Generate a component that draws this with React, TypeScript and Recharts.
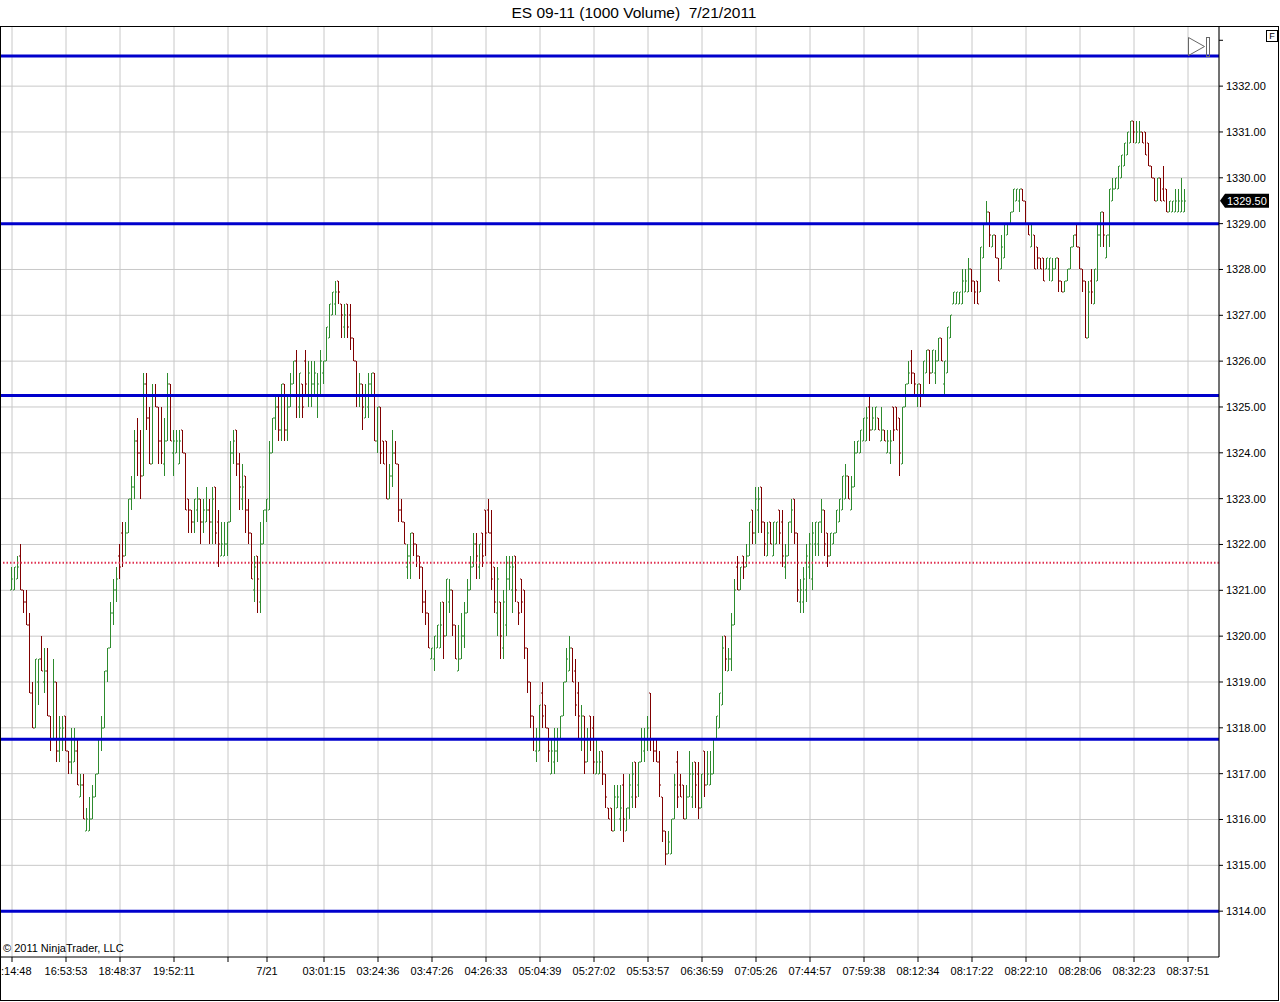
import React from 'react';
import { ComposedChart, Bar, XAxis, YAxis, CartesianGrid, ReferenceLine } from 'recharts';

// 1000-volume bars (index = bar number)
const opens = [
  1321.0, 1321.0, 1321.25, 1321.75, 1321.0, 1320.75, 1320.25, 1318.75, 1318.0, 1319.0,
  1319.5, 1319.0, 1319.25, 1318.25, 1317.75, 1319.0, 1317.5, 1317.75, 1318.25, 1317.5,
  1317.25, 1317.25, 1317.5, 1316.5, 1316.75, 1315.75, 1315.75, 1316.0, 1316.5, 1317.0,
  1317.75, 1318.0, 1319.25, 1319.75, 1320.5, 1321.0, 1321.75, 1322.25, 1321.75, 1322.25,
  1323.0, 1323.25, 1324.25, 1324.0, 1323.5, 1325.5, 1324.75, 1323.75, 1325.25, 1325.0,
  1324.25, 1323.75, 1324.25, 1325.5, 1324.0, 1324.0, 1323.75, 1324.5, 1324.0, 1323.0,
  1322.75, 1322.5, 1322.75, 1323.0, 1322.5, 1322.5, 1322.75, 1322.5, 1323.25, 1322.5,
  1321.75, 1321.75, 1322.0, 1322.5, 1324.0, 1324.5, 1323.75, 1323.0, 1323.5, 1322.75,
  1322.25, 1321.0, 1321.75, 1320.75, 1322.0, 1322.75, 1322.75, 1324.0, 1324.75, 1325.0,
  1324.5, 1325.5, 1324.5, 1325.0, 1325.5, 1326.0, 1325.0, 1325.5, 1326.0, 1325.25,
  1325.25, 1325.5, 1325.25, 1325.25, 1325.75, 1326.0, 1326.5, 1327.0, 1327.25, 1327.75,
  1327.25, 1326.75, 1327.25, 1327.0, 1326.5, 1326.0, 1325.25, 1325.5, 1324.75, 1325.0,
  1325.5, 1325.75, 1324.25, 1325.0, 1324.25, 1324.25, 1323.0, 1323.5, 1324.0, 1323.75,
  1322.75, 1322.5, 1321.5, 1321.75, 1322.25, 1322.0, 1321.75, 1321.5, 1320.75, 1320.5,
  1319.5, 1319.5, 1319.75, 1319.75, 1320.75, 1320.0, 1320.75, 1321.0, 1320.25, 1319.25,
  1319.5, 1320.0, 1320.5, 1321.0, 1321.5, 1322.0, 1321.5, 1322.25, 1322.75, 1322.75,
  1322.25, 1321.5, 1320.5, 1320.75, 1319.75, 1320.25, 1321.25, 1321.0, 1321.75, 1320.75,
  1321.25, 1321.0, 1319.75, 1319.0, 1318.25, 1317.5, 1317.5, 1318.75, 1318.5, 1318.0,
  1317.0, 1317.25, 1317.5, 1317.75, 1318.25, 1319.0, 1319.25, 1319.75, 1319.25, 1318.75,
  1317.75, 1318.25, 1317.25, 1318.25, 1318.0, 1317.0, 1317.0, 1317.5, 1317.0, 1316.25,
  1316.25, 1315.75, 1316.25, 1316.0, 1316.75, 1315.75, 1316.25, 1316.5, 1317.25, 1316.75,
  1317.25, 1317.5, 1317.75, 1318.75, 1317.75, 1317.5, 1317.25, 1316.5, 1315.75, 1315.25,
  1315.25, 1316.0, 1317.25, 1316.75, 1316.75, 1316.0, 1316.5, 1316.5, 1317.25, 1317.0,
  1316.25, 1317.5, 1316.75, 1316.75, 1317.0, 1317.75, 1318.0, 1318.5, 1320.0, 1319.25,
  1319.5, 1320.25, 1321.5, 1321.0, 1321.75, 1321.5, 1321.75, 1322.75, 1322.25, 1322.75,
  1323.25, 1322.5, 1321.75, 1322.5, 1321.75, 1322.0, 1322.75, 1322.5, 1321.5, 1321.75,
  1322.5, 1323.0, 1322.25, 1320.75, 1320.75, 1321.0, 1321.5, 1321.25, 1322.0, 1322.0,
  1322.5, 1322.75, 1322.25, 1321.75, 1322.0, 1322.25, 1322.5, 1322.75, 1323.0, 1323.5,
  1322.75, 1323.25, 1324.0, 1324.0, 1324.25, 1324.25, 1325.0, 1324.5, 1324.5, 1324.75,
  1324.25, 1324.5, 1324.0, 1324.0, 1325.0, 1325.0, 1324.75, 1323.75, 1325.0, 1325.5,
  1326.0, 1325.75, 1325.25, 1325.5, 1325.25, 1325.75, 1326.25, 1325.75, 1325.75, 1326.0,
  1326.5, 1325.5, 1325.75, 1326.5, 1327.25, 1327.25, 1327.25, 1327.25, 1327.5, 1327.5,
  1328.0, 1327.75, 1327.75, 1327.5, 1328.25, 1329.0, 1329.25, 1328.5, 1328.75, 1328.25,
  1328.0, 1328.25, 1328.75, 1329.0, 1329.25, 1329.5, 1329.5, 1329.75, 1329.5, 1329.0,
  1328.5, 1328.75, 1328.5, 1328.25, 1328.25, 1328.0, 1328.0, 1327.75, 1328.0, 1328.25,
  1327.75, 1327.5, 1327.75, 1328.0, 1328.5, 1328.75, 1328.5, 1328.0, 1327.75, 1326.5,
  1327.75, 1327.25, 1327.75, 1328.75, 1329.25, 1328.25, 1328.75, 1329.5, 1329.75, 1329.75,
  1330.0, 1330.25, 1330.5, 1330.75, 1331.25, 1330.75, 1330.75, 1331.0, 1331.0, 1330.75,
  1330.25, 1330.0, 1329.5, 1330.0, 1329.75, 1329.75, 1329.25, 1329.25, 1329.25, 1329.25,
  1329.25, 1329.25,
];

const highs = [
  1321.5, 1321.5, 1321.75, 1322.0, 1321.0, 1321.0, 1320.5, 1319.0, 1319.5, 1319.5,
  1320.0, 1319.75, 1319.75, 1318.25, 1319.5, 1319.0, 1318.25, 1318.25, 1318.25, 1317.5,
  1318.0, 1318.0, 1317.75, 1317.0, 1317.0, 1316.25, 1316.5, 1316.75, 1317.0, 1317.75,
  1318.25, 1319.25, 1319.75, 1320.75, 1321.25, 1321.5, 1322.0, 1322.5, 1322.5, 1323.0,
  1323.5, 1324.5, 1324.75, 1324.5, 1325.75, 1325.75, 1325.0, 1325.5, 1325.5, 1325.0,
  1325.0, 1324.75, 1325.75, 1325.5, 1324.5, 1324.5, 1324.5, 1324.5, 1324.0, 1323.0,
  1322.75, 1323.0, 1323.25, 1323.0, 1323.0, 1323.25, 1323.0, 1323.25, 1323.25, 1322.75,
  1322.5, 1322.5, 1322.5, 1324.25, 1324.5, 1324.5, 1324.0, 1323.75, 1323.5, 1323.0,
  1322.25, 1321.75, 1321.75, 1322.5, 1322.75, 1323.0, 1324.25, 1324.75, 1325.25, 1325.25,
  1325.5, 1325.5, 1325.25, 1325.75, 1326.0, 1326.25, 1325.75, 1325.5, 1326.25, 1326.0,
  1326.0, 1326.0, 1325.75, 1326.25, 1326.0, 1326.75, 1327.25, 1327.5, 1327.75, 1327.75,
  1327.25, 1327.25, 1327.25, 1327.25, 1326.5, 1326.0, 1325.75, 1325.5, 1325.5, 1325.75,
  1325.75, 1325.75, 1325.0, 1325.0, 1324.25, 1324.25, 1323.75, 1324.5, 1324.25, 1323.75,
  1323.0, 1322.5, 1322.0, 1322.25, 1322.25, 1322.0, 1321.75, 1321.5, 1321.0, 1320.5,
  1319.75, 1320.0, 1320.25, 1320.75, 1320.75, 1321.25, 1321.25, 1321.0, 1320.25, 1320.25,
  1320.5, 1320.75, 1321.25, 1321.75, 1322.25, 1322.25, 1322.0, 1322.25, 1322.75, 1323.0,
  1322.75, 1321.5, 1321.5, 1320.75, 1321.0, 1321.75, 1321.75, 1321.75, 1321.75, 1320.75,
  1321.25, 1321.0, 1319.75, 1319.0, 1318.25, 1318.0, 1318.5, 1319.0, 1318.5, 1318.0,
  1317.75, 1318.0, 1318.0, 1318.25, 1319.0, 1319.75, 1320.0, 1319.75, 1319.5, 1319.0,
  1318.5, 1318.25, 1318.0, 1318.25, 1318.25, 1317.75, 1317.5, 1317.5, 1317.0, 1316.25,
  1316.25, 1316.75, 1316.75, 1316.75, 1317.0, 1316.25, 1317.0, 1317.25, 1317.25, 1317.25,
  1318.0, 1318.0, 1318.25, 1318.75, 1317.75, 1317.75, 1317.5, 1316.5, 1315.75, 1315.75,
  1316.0, 1317.0, 1317.5, 1317.0, 1316.75, 1316.75, 1317.5, 1317.25, 1317.25, 1317.25,
  1317.0, 1317.5, 1317.5, 1317.5, 1317.75, 1318.25, 1318.75, 1320.0, 1320.0, 1319.75,
  1320.5, 1321.25, 1321.75, 1321.5, 1321.75, 1322.0, 1322.5, 1322.75, 1323.25, 1323.25,
  1323.25, 1322.5, 1322.5, 1322.5, 1322.5, 1322.5, 1322.75, 1322.75, 1322.0, 1322.5,
  1323.0, 1323.0, 1322.25, 1321.25, 1321.5, 1322.0, 1322.25, 1322.5, 1322.5, 1322.5,
  1323.0, 1322.75, 1322.25, 1322.25, 1322.25, 1322.75, 1323.0, 1323.5, 1323.75, 1323.5,
  1323.5, 1324.25, 1324.25, 1324.5, 1324.75, 1325.0, 1325.25, 1325.0, 1325.0, 1324.75,
  1325.0, 1324.5, 1324.5, 1324.5, 1325.0, 1325.0, 1324.75, 1325.0, 1325.5, 1326.0,
  1326.25, 1325.75, 1325.5, 1325.5, 1326.0, 1326.25, 1326.25, 1326.25, 1326.25, 1326.5,
  1326.5, 1326.0, 1326.75, 1327.0, 1327.5, 1327.5, 1327.5, 1328.0, 1328.0, 1328.25,
  1328.0, 1327.75, 1327.75, 1328.5, 1329.0, 1329.5, 1329.25, 1328.75, 1328.75, 1328.25,
  1328.75, 1329.0, 1329.0, 1329.25, 1329.75, 1329.75, 1329.75, 1329.75, 1329.5, 1329.0,
  1329.0, 1328.75, 1328.5, 1328.25, 1328.25, 1328.25, 1328.25, 1328.25, 1328.25, 1328.25,
  1327.75, 1327.75, 1328.0, 1328.5, 1328.75, 1329.0, 1328.5, 1328.0, 1327.75, 1327.75,
  1328.0, 1328.0, 1329.0, 1329.25, 1329.25, 1328.75, 1329.75, 1330.0, 1330.0, 1330.25,
  1330.5, 1330.75, 1331.0, 1331.25, 1331.25, 1331.25, 1331.25, 1331.0, 1331.0, 1330.75,
  1330.25, 1330.0, 1330.0, 1330.0, 1330.25, 1329.75, 1329.5, 1329.5, 1329.75, 1329.75,
  1330.0, 1329.75,
];

const lows = [
  1321.0, 1321.0, 1321.25, 1321.0, 1320.5, 1320.25, 1318.75, 1318.0, 1318.0, 1318.5,
  1319.25, 1318.75, 1318.25, 1317.5, 1317.75, 1317.25, 1317.25, 1317.5, 1317.5, 1317.0,
  1317.0, 1317.25, 1316.75, 1316.5, 1316.0, 1315.75, 1315.75, 1316.0, 1316.5, 1317.0,
  1317.5, 1318.0, 1319.0, 1319.75, 1320.25, 1320.75, 1321.25, 1321.5, 1321.75, 1322.25,
  1322.75, 1323.0, 1323.5, 1323.0, 1323.5, 1324.5, 1323.75, 1323.75, 1325.0, 1323.75,
  1323.75, 1323.5, 1324.25, 1324.25, 1323.5, 1324.0, 1323.75, 1324.0, 1322.75, 1322.25,
  1322.25, 1322.25, 1322.5, 1322.0, 1322.25, 1322.5, 1322.0, 1322.0, 1322.0, 1321.5,
  1321.75, 1321.75, 1321.75, 1322.5, 1323.75, 1323.5, 1322.75, 1322.75, 1322.25, 1322.0,
  1321.25, 1320.75, 1320.5, 1320.5, 1322.0, 1322.5, 1322.75, 1324.0, 1324.5, 1324.25,
  1324.25, 1324.25, 1324.25, 1325.0, 1325.5, 1324.75, 1324.75, 1324.75, 1325.25, 1325.0,
  1325.0, 1325.25, 1324.75, 1325.25, 1325.5, 1326.0, 1326.5, 1327.0, 1327.0, 1327.25,
  1326.5, 1326.5, 1326.5, 1326.25, 1326.0, 1325.0, 1325.0, 1324.5, 1324.75, 1324.75,
  1325.25, 1324.25, 1324.0, 1323.75, 1323.75, 1323.0, 1323.0, 1323.25, 1323.75, 1322.5,
  1322.5, 1322.0, 1321.25, 1321.25, 1321.75, 1321.5, 1321.25, 1320.5, 1320.25, 1319.75,
  1319.5, 1319.25, 1319.75, 1319.75, 1319.5, 1320.0, 1320.5, 1320.0, 1319.5, 1319.25,
  1319.5, 1319.75, 1320.5, 1321.0, 1321.5, 1321.25, 1321.25, 1321.5, 1321.75, 1322.25,
  1321.0, 1320.5, 1320.0, 1319.5, 1319.5, 1320.0, 1321.0, 1320.5, 1320.75, 1320.25,
  1320.5, 1319.5, 1318.75, 1318.0, 1317.5, 1317.25, 1317.5, 1318.0, 1318.0, 1317.25,
  1317.0, 1317.0, 1317.25, 1317.75, 1318.25, 1319.0, 1319.25, 1319.0, 1318.25, 1317.75,
  1317.5, 1317.0, 1317.25, 1317.5, 1317.0, 1317.0, 1317.0, 1316.75, 1316.25, 1316.0,
  1315.75, 1315.75, 1316.25, 1315.75, 1315.5, 1315.75, 1316.0, 1316.25, 1316.25, 1316.5,
  1317.25, 1317.25, 1317.5, 1317.5, 1317.25, 1317.25, 1316.5, 1315.5, 1315.0, 1315.25,
  1315.25, 1316.0, 1316.25, 1316.5, 1316.0, 1316.0, 1316.5, 1316.25, 1316.25, 1316.0,
  1316.25, 1316.5, 1316.75, 1316.75, 1317.0, 1317.75, 1318.0, 1318.5, 1319.25, 1319.25,
  1319.25, 1320.25, 1321.0, 1321.0, 1321.25, 1321.5, 1321.75, 1322.0, 1322.0, 1322.25,
  1322.25, 1321.75, 1321.75, 1322.0, 1321.75, 1322.0, 1322.0, 1321.5, 1321.25, 1321.75,
  1322.25, 1322.0, 1320.75, 1320.5, 1320.5, 1320.75, 1321.25, 1321.0, 1321.75, 1321.75,
  1322.25, 1321.75, 1321.5, 1321.75, 1322.0, 1322.25, 1322.5, 1322.75, 1323.0, 1323.0,
  1322.75, 1323.25, 1324.0, 1324.0, 1324.25, 1324.25, 1324.25, 1324.5, 1324.5, 1324.5,
  1324.25, 1324.25, 1324.0, 1323.75, 1324.25, 1324.5, 1323.5, 1323.75, 1325.0, 1325.5,
  1325.5, 1325.25, 1325.0, 1325.0, 1325.25, 1325.75, 1325.5, 1325.75, 1325.5, 1326.0,
  1326.0, 1325.25, 1325.75, 1326.5, 1327.25, 1327.25, 1327.25, 1327.25, 1327.5, 1327.5,
  1327.5, 1327.25, 1327.25, 1327.5, 1328.25, 1329.0, 1328.5, 1328.5, 1328.25, 1327.75,
  1328.0, 1328.25, 1328.75, 1329.0, 1329.25, 1329.5, 1329.25, 1329.5, 1329.0, 1328.75,
  1328.5, 1328.0, 1328.0, 1328.0, 1327.75, 1328.0, 1327.75, 1327.75, 1328.0, 1327.5,
  1327.5, 1327.5, 1327.75, 1328.0, 1328.5, 1328.5, 1328.0, 1327.5, 1326.5, 1326.5,
  1327.25, 1327.25, 1327.75, 1328.5, 1328.5, 1328.25, 1328.5, 1329.5, 1329.75, 1329.75,
  1330.0, 1330.25, 1330.5, 1330.75, 1330.75, 1330.75, 1330.75, 1330.75, 1330.5, 1330.25,
  1330.0, 1329.5, 1329.5, 1329.5, 1329.5, 1329.25, 1329.25, 1329.25, 1329.25, 1329.25,
  1329.25, 1329.25,
];

const closes = [
  1321.25, 1321.5, 1321.5, 1321.0, 1320.75, 1320.25, 1318.75, 1318.0, 1319.5, 1319.5,
  1319.25, 1319.25, 1318.25, 1317.75, 1319.0, 1317.5, 1318.0, 1318.0, 1317.5, 1317.25,
  1317.75, 1317.5, 1316.75, 1316.75, 1316.0, 1316.0, 1316.0, 1316.5, 1317.0, 1317.75,
  1318.0, 1319.25, 1319.75, 1320.5, 1321.0, 1321.25, 1321.5, 1321.75, 1322.25, 1323.0,
  1323.25, 1324.25, 1324.0, 1323.5, 1325.5, 1324.75, 1323.75, 1325.25, 1325.0, 1324.25,
  1324.0, 1324.25, 1325.5, 1324.25, 1324.25, 1324.25, 1324.25, 1324.0, 1322.75, 1322.75,
  1322.5, 1323.0, 1323.0, 1322.5, 1322.75, 1322.75, 1322.5, 1323.0, 1322.25, 1322.0,
  1322.0, 1322.0, 1322.5, 1324.0, 1324.25, 1323.75, 1323.25, 1323.25, 1322.75, 1322.25,
  1321.25, 1321.5, 1321.25, 1322.0, 1322.75, 1323.0, 1324.0, 1324.75, 1325.0, 1324.5,
  1325.5, 1324.5, 1325.0, 1325.5, 1326.0, 1325.25, 1325.75, 1325.0, 1325.5, 1325.75,
  1325.5, 1325.75, 1325.5, 1326.0, 1326.0, 1326.75, 1327.25, 1327.5, 1327.5, 1327.5,
  1327.0, 1327.0, 1326.75, 1326.5, 1326.0, 1325.25, 1325.5, 1325.0, 1325.25, 1325.5,
  1325.75, 1324.25, 1325.0, 1324.0, 1323.75, 1323.0, 1323.5, 1324.0, 1323.75, 1322.75,
  1322.5, 1322.0, 1321.75, 1322.25, 1322.0, 1321.75, 1321.5, 1320.75, 1320.5, 1319.75,
  1319.75, 1320.0, 1320.25, 1320.25, 1320.0, 1321.25, 1321.0, 1320.25, 1319.5, 1319.5,
  1320.0, 1320.5, 1321.0, 1321.5, 1322.0, 1321.75, 1322.0, 1321.75, 1322.25, 1322.25,
  1321.25, 1320.75, 1321.25, 1320.0, 1320.75, 1321.25, 1321.5, 1321.5, 1321.0, 1320.5,
  1320.75, 1319.75, 1319.0, 1318.25, 1317.75, 1317.75, 1318.5, 1318.25, 1318.0, 1317.5,
  1317.5, 1317.5, 1317.75, 1318.25, 1319.0, 1319.5, 1319.75, 1319.0, 1318.5, 1318.25,
  1318.25, 1317.25, 1317.75, 1317.75, 1317.25, 1317.25, 1317.25, 1317.0, 1316.5, 1316.0,
  1315.75, 1316.5, 1316.5, 1316.25, 1316.0, 1316.25, 1316.75, 1317.0, 1316.5, 1317.25,
  1317.75, 1317.75, 1318.0, 1317.75, 1317.5, 1317.25, 1316.75, 1315.75, 1315.25, 1315.5,
  1316.0, 1316.75, 1316.5, 1316.5, 1316.0, 1316.5, 1317.0, 1317.0, 1316.75, 1316.25,
  1317.0, 1316.75, 1317.0, 1317.0, 1317.75, 1318.25, 1318.75, 1319.75, 1319.5, 1319.5,
  1320.25, 1321.0, 1321.0, 1321.5, 1321.5, 1321.75, 1322.5, 1322.25, 1323.0, 1323.0,
  1322.5, 1322.0, 1322.25, 1322.0, 1322.5, 1322.5, 1322.25, 1321.75, 1321.75, 1322.5,
  1322.75, 1322.25, 1321.0, 1321.0, 1321.25, 1321.75, 1322.0, 1322.25, 1322.5, 1322.5,
  1322.75, 1322.0, 1321.75, 1322.25, 1322.25, 1322.75, 1323.0, 1323.5, 1323.5, 1323.0,
  1323.25, 1324.0, 1324.25, 1324.5, 1324.75, 1324.75, 1324.5, 1324.75, 1325.0, 1324.5,
  1324.5, 1324.25, 1324.25, 1324.25, 1324.5, 1324.5, 1324.0, 1325.0, 1325.5, 1325.75,
  1325.75, 1325.5, 1325.5, 1325.25, 1326.0, 1326.25, 1325.75, 1326.25, 1326.0, 1326.5,
  1326.0, 1326.0, 1326.75, 1327.0, 1327.5, 1327.5, 1327.5, 1327.75, 1327.75, 1328.0,
  1327.75, 1327.5, 1327.25, 1328.5, 1329.0, 1329.25, 1328.75, 1328.75, 1328.25, 1327.75,
  1328.5, 1329.0, 1329.0, 1329.25, 1329.75, 1329.75, 1329.75, 1329.5, 1329.0, 1328.75,
  1329.0, 1328.0, 1328.25, 1328.0, 1327.75, 1328.25, 1328.25, 1328.0, 1328.25, 1327.75,
  1327.5, 1327.75, 1328.0, 1328.5, 1328.75, 1328.5, 1328.0, 1327.75, 1326.5, 1327.5,
  1327.5, 1328.0, 1328.75, 1329.25, 1328.75, 1328.75, 1329.75, 1329.75, 1330.0, 1330.25,
  1330.5, 1330.75, 1331.0, 1331.25, 1331.0, 1331.0, 1331.0, 1330.75, 1330.5, 1330.25,
  1330.0, 1329.5, 1330.0, 1329.5, 1329.5, 1329.25, 1329.5, 1329.5, 1329.5, 1329.5,
  1329.5, 1329.5,
];

// x-axis ticks (bar index) and their labels
const timeTickIdx = [0, 18, 36, 54, 72, 85, 104, 122, 140, 158, 176, 194, 212, 230, 248, 266, 284, 302, 320, 338, 356, 374, 392];
const timeTickLabels = [
  ':14:48', '16:53:53', '18:48:37', '19:52:11', '', '7/21', '03:01:15', '03:24:36', '03:47:26', '04:26:33',
  '05:04:39', '05:27:02', '05:53:57', '06:36:59', '07:05:26', '07:44:57', '07:59:38', '08:12:34', '08:17:22',
  '08:22:10', '08:28:06', '08:32:23', '08:37:51',
];

const priceTicks = [1314, 1315, 1316, 1317, 1318, 1319, 1320, 1321, 1322, 1323, 1324, 1325, 1326, 1327, 1328, 1329, 1330, 1331, 1332, 1333];
const gridPrices = priceTicks.filter(p => p < 1333);
const blueLevels = [1332.66, 1329.0, 1325.25, 1317.75, 1314.0];
const dottedLevel = 1321.6;
const lastPrice = 1329.5;

const UP = '#2e8b2e';
const DOWN = '#800000';
const FONT = '"Liberation Sans", Arial, sans-serif';

const data = opens.map((o, i) => ({
  idx: i,
  o,
  h: highs[i],
  l: lows[i],
  c: closes[i],
  hl: [lows[i], highs[i]],
}));
data.push({ idx: opens.length } as any); // empty slot for the last time tick

const OhlcBar = (props: any) => {
  const { x, y, width, height, payload } = props;
  if (!payload || payload.h == null || x == null || isNaN(y)) return null;
  const top = Math.min(y, y + height);
  const bottom = Math.max(y, y + height);
  const range = payload.h - payload.l;
  const py = (v: number) => (range > 0 ? top + ((payload.h - v) / range) * (bottom - top) : top);
  const px = Math.round(x + width / 2 - 0.5);
  const color = payload.c >= payload.o ? UP : DOWN;
  const t = Math.round(top);
  const b = Math.max(Math.round(bottom), t + 1);
  return (
    <g>
      <rect x={px} y={t} width={1} height={b - t} fill={color} />
      <rect x={px - 1} y={Math.round(py(payload.o)) - 0.5} width={1} height={1} fill={color} />
      <rect x={px + 1} y={Math.round(py(payload.c)) - 0.5} width={1} height={1} fill={color} />
    </g>
  );
};

const TimeTick = (props: any) => {
  const { x, y, payload } = props;
  const k = timeTickIdx.indexOf(payload.value);
  const label = k >= 0 ? timeTickLabels[k] : '';
  if (!label) return null;
  const first = payload.value === 0;
  return (
    <text x={first ? 1 : x} y={y} dy={11} textAnchor={first ? 'start' : 'middle'} fontSize={11} fontFamily={FONT} fill="#000">
      {label}
    </text>
  );
};

const PriceTick = (props: any) => {
  const { x, y, payload } = props;
  if (payload.value >= 1333) return null;
  return (
    <text x={x} y={y} dy={4} textAnchor="start" fontSize={11} fontFamily={FONT} fill="#000">
      {Number(payload.value).toFixed(2)}
    </text>
  );
};

const PriceTag = (props: any) => {
  const vb = props.viewBox || {};
  const x0 = vb.x + vb.width;
  const yc = vb.y;
  return (
    <g>
      <path d={`M${x0 + 1},${yc} L${x0 + 6},${yc - 7} L${x0 + 50},${yc - 7} L${x0 + 50},${yc + 7} L${x0 + 6},${yc + 7} Z`} fill="#000" />
      <text x={x0 + 8} y={yc + 4} fontSize={11} fontFamily={FONT} fill="#fff">
        {lastPrice.toFixed(2)}
      </text>
    </g>
  );
};

export default function App() {
  return (
    <div style={{ position: 'absolute', left: 0, top: 0, width: 1280, height: 1002, background: '#fff', fontFamily: FONT }}>
      <ComposedChart width={1280} height={1002} data={data} margin={{ top: 27, right: 0, bottom: 0, left: 0 }}>
        <CartesianGrid stroke="#c8c8c8" horizontalValues={gridPrices} />
        <XAxis
          dataKey="idx"
          type="category"
          ticks={timeTickIdx}
          interval={0}
          height={45}
          padding={{ left: 10.5, right: 29.5 }}
          tick={<TimeTick />}
          tickSize={5}
          axisLine={{ stroke: '#000' }}
          tickLine={{ stroke: '#000' }}
        />
        <YAxis
          orientation="right"
          type="number"
          domain={[1313, 1333.29]}
          ticks={priceTicks}
          allowDataOverflow
          width={61}
          tickSize={4}
          tickMargin={3}
          tick={<PriceTick />}
          axisLine={{ stroke: '#000' }}
          tickLine={{ stroke: '#000' }}
        />
        <ReferenceLine y={dottedLevel} stroke="#e03050" strokeWidth={2} strokeDasharray="1.5 2" />
        {blueLevels.map(v => (
          <ReferenceLine key={v} y={v} stroke="#0000cc" strokeWidth={3} />
        ))}
        <Bar dataKey="hl" barSize={3} shape={<OhlcBar />} isAnimationActive={false} />
        <ReferenceLine y={lastPrice} stroke="none" strokeOpacity={0} label={<PriceTag />} />
      </ComposedChart>

      <div style={{ position: 'absolute', left: 0, top: 4, width: 1268, textAlign: 'center', fontSize: 15.5, whiteSpace: 'pre', color: '#000' }}>
        {'ES 09-11 (1000 Volume)  7/21/2011'}
      </div>
      <div style={{ position: 'absolute', left: 0, top: 26, width: 1279, height: 975, border: '1px solid #000', boxSizing: 'border-box', pointerEvents: 'none' }} />
      <div style={{ position: 'absolute', left: 3, top: 942, fontSize: 11, color: '#000' }}>© 2011 NinjaTrader, LLC</div>
      <div style={{ position: 'absolute', left: 1266, top: 30, width: 12, height: 12, border: '1px solid #000', boxSizing: 'border-box', fontSize: 9, lineHeight: '10px', textAlign: 'center' }}>F</div>
      <svg style={{ position: 'absolute', left: 1187, top: 36 }} width={26} height={23}>
        <polygon points="1.5,1.5 17.5,10.5 1.5,19.5" fill="none" stroke="#666" />
        <rect x={19.5} y={1.5} width={3} height={19} fill="none" stroke="#666" />
      </svg>
    </div>
  );
}
